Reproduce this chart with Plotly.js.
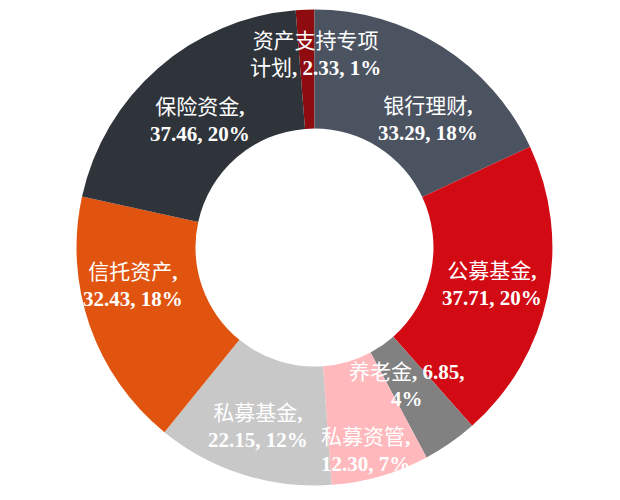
<!DOCTYPE html>
<html>
<head>
<meta charset="utf-8">
<script src="https://cdn.plot.ly/plotly-3.0.1.min.js"></script>
<style>
  body { margin: 0; background: #fff; }
  #chart { width: 620px; height: 500px; }
</style>
</head>
<body>
<div id="chart"></div>
<script>
// data, clockwise from 12 o'clock
const names = ['资产支持专项计划', '银行理财', '公募基金', '养老金', '私募资管', '私募基金', '信托资产', '保险资金'];
const values = [2.33, 33.29, 37.71, 6.85, 12.30, 22.15, 32.43, 37.46];
const colors = ['#8E0B10', '#4B5361', '#D20A14', '#818181', '#FFB9BD', '#C8C8C8', '#E05410', '#2F343B'];

// label placement (fraction of outer radius, angle nudge in degrees)
const labelRadius = [0.81, 0.72, 0.76, 0.70, 0.88, 0.79, 0.78, 0.72];
const labelNudge = [2.5, 9, 0, 1, 2, 0, 7.5, -1];
// where each label wraps: 'name' = inside the name, 'comma' = after name, 'value' = after value
const wrapAt = ['name', 'comma', 'comma', 'value', 'comma', 'comma', 'comma', 'comma'];

const W = 620, H = 500;
const domX = [0.1234, 0.891];
const domY = [0.029, 0.981];

const total = values.reduce((a, b) => a + b, 0);
const rotation = -values[0] / total * 360;

const cx = W * (domX[0] + domX[1]) / 2;
const cy = H * (1 - (domY[0] + domY[1]) / 2);
const R = Math.min(W * (domX[1] - domX[0]), H * (domY[1] - domY[0])) / 2;

function labelText(i) {
    const pct = Math.round(values[i] / total * 100) + '%';
    const num = values[i].toFixed(2);
    const n = names[i];
    if (wrapAt[i] === 'name') {
        return n.slice(0, 6) + '<br>' + n.slice(6) + '<b>, ' + num + ', ' + pct + '</b>';
    }
    if (wrapAt[i] === 'value') {
        return n + '<b>, ' + num + ',</b><br><b>' + pct + '</b>';
    }
    return n + '<b>,</b><br><b>' + num + ', ' + pct + '</b>';
}

const annotations = [];
let cum = 0;
values.forEach((v, i) => {
    const mid = rotation + (cum + v / 2) / total * 360 + labelNudge[i];
    cum += v;
    const a = mid * Math.PI / 180;
    const px = cx + labelRadius[i] * R * Math.sin(a);
    const py = cy - labelRadius[i] * R * Math.cos(a);
    annotations.push({
        x: px / W,
        y: 1 - py / H,
        xref: 'paper',
        yref: 'paper',
        xanchor: 'center',
        yanchor: 'middle',
        showarrow: false,
        text: labelText(i),
        font: {family: 'Liberation Serif, "Noto Sans CJK SC", serif', size: 21, color: '#ffffff'}
    });
});

const data = [{
    type: 'pie',
    labels: names,
    values: values,
    sort: false,
    direction: 'clockwise',
    rotation: rotation,
    hole: 0.5,
    textinfo: 'none',
    hoverinfo: 'label+value+percent',
    marker: {colors: colors, line: {width: 0}},
    domain: {x: domX, y: domY}
}];

const layout = {
    width: W,
    height: H,
    margin: {l: 0, r: 0, t: 0, b: 0},
    showlegend: false,
    paper_bgcolor: '#ffffff',
    annotations: annotations
};

Plotly.newPlot('chart', data, layout, {displayModeBar: false, staticPlot: true});
</script>
</body>
</html>
